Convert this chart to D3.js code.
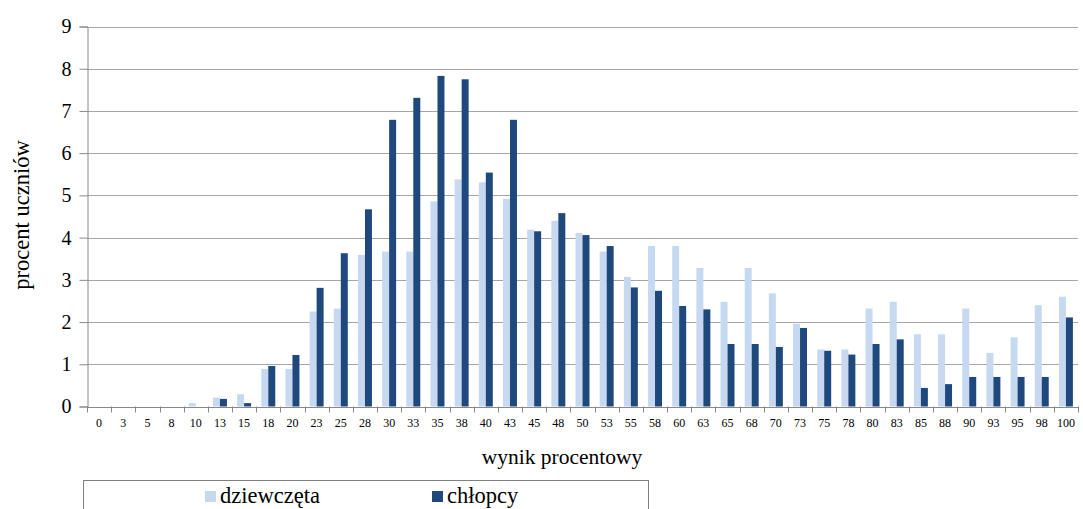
<!DOCTYPE html>
<html><head><meta charset="utf-8">
<script src="https://cdn.jsdelivr.net/npm/d3@7"></script>
<style>body{margin:0;background:#fff}svg{display:block}text{font-family:"Liberation Serif","Times New Roman",serif}</style>
</head><body><svg id="c" width="1083" height="509"></svg>
<script>
const categories = ["0","3","5","8","10","13","15","18","20","23","25","28","30","33","35","38","40","43","45","48","50","53","55","58","60","63","65","68","70","73","75","78","80","83","85","88","90","93","95","98","100"];
const dziewczeta = [0,0,0,0,0.08,0.21,0.29,0.89,0.89,2.25,2.32,3.59,3.67,3.67,4.86,5.38,5.31,4.92,4.19,4.40,4.11,3.67,3.07,3.80,3.80,3.28,2.48,3.28,2.68,1.96,1.35,1.35,2.32,2.48,1.71,1.71,2.32,1.27,1.64,2.40,2.60];
const chlopcy = [0,0,0,0,0,0.18,0.08,0.96,1.22,2.81,3.63,4.67,6.79,7.31,7.83,7.75,5.54,6.79,4.15,4.58,4.06,3.80,2.82,2.74,2.38,2.30,1.48,1.48,1.41,1.86,1.32,1.23,1.48,1.59,0.44,0.53,0.70,0.70,0.70,0.70,2.11];
const yTicks = [0,1,2,3,4,5,6,7,8,9];
const seriesNames = ["dziewczęta","chłopcy"];
const colors = ["#c6d9f1","#1f497d"];
const FONT = '"Liberation Serif","Times New Roman",serif';

const svg = d3.select("#c");
const L = 87, R = 1078, T = 26.5, B = 406.5;
const x0 = d3.scaleBand().domain(categories).range([L, R]).paddingInner(0).paddingOuter(0);
const x1 = d3.scaleBand().domain([0,1]).range([0, x0.bandwidth()]).paddingInner(0).paddingOuter(0.73);
const y = d3.scaleLinear().domain([0,9]).range([B, T]);

// gridlines
svg.append("g").selectAll("line").data(yTicks.filter(d=>d>0)).join("line")
  .attr("x1", L).attr("x2", R).attr("y1", d=>Math.round(y(d))+0.5).attr("y2", d=>Math.round(y(d))+0.5)
  .attr("stroke", "#a6a6a6").attr("stroke-width", 1);

// bars
const data = [dziewczeta, chlopcy];
data.forEach((vals, si) => {
  svg.append("g").selectAll("rect").data(vals).join("rect")
    .attr("x", (d,i)=>x0(categories[i]) + x1(si))
    .attr("width", x1.bandwidth())
    .attr("y", d=>y(d))
    .attr("height", d=>B - y(d))
    .attr("fill", colors[si]);
});

// y axis
const ya = svg.append("g").attr("transform", `translate(${L+0.5},0)`)
  .call(d3.axisLeft(y).tickValues(yTicks).tickSize(8).tickPadding(8).tickFormat(d3.format("d")));
ya.attr("font-family", FONT);
ya.select(".domain").attr("stroke", "#888");
ya.selectAll(".tick line").attr("stroke", "#888");
ya.selectAll(".tick text").attr("font-size", 20).attr("fill", "#000");

// x axis
const xa = svg.append("g").attr("transform", `translate(0,${B+0.5})`)
  .call(d3.axisBottom(x0).tickSize(0).tickPadding(11));
xa.attr("font-family", FONT);
xa.select(".domain").attr("stroke", "#888");
xa.selectAll(".tick text").attr("font-size", 12).attr("fill", "#000");
// boundary ticks
svg.append("g").selectAll("line").data(d3.range(categories.length+1)).join("line")
  .attr("x1", i=>Math.round(L + i*x0.step())+0.5).attr("x2", i=>Math.round(L + i*x0.step())+0.5)
  .attr("y1", B).attr("y2", B+6).attr("stroke", "#888");

// axis titles
svg.append("text").attr("x", 562).attr("y", 464).attr("text-anchor","middle")
  .attr("font-family", FONT).attr("font-size", 21.5).text("wynik procentowy");
svg.append("text").attr("transform", "translate(29,215) rotate(-90)").attr("text-anchor","middle")
  .attr("font-family", FONT).attr("font-size", 22.5).text("procent uczniów");

// legend
svg.append("rect").attr("x", 83.5).attr("y", 480.5).attr("width", 565).attr("height", 40)
  .attr("fill", "none").attr("stroke", "#808080");
const legX = [205, 432];
seriesNames.forEach((n,i)=>{
  svg.append("rect").attr("x", legX[i]).attr("y", 491).attr("width", 11).attr("height", 11).attr("fill", colors[i]);
  svg.append("text").attr("x", legX[i]+15).attr("y", 503).attr("font-family", FONT)
    .attr("font-size", 22.5).text(n);
});
</script></body></html>
